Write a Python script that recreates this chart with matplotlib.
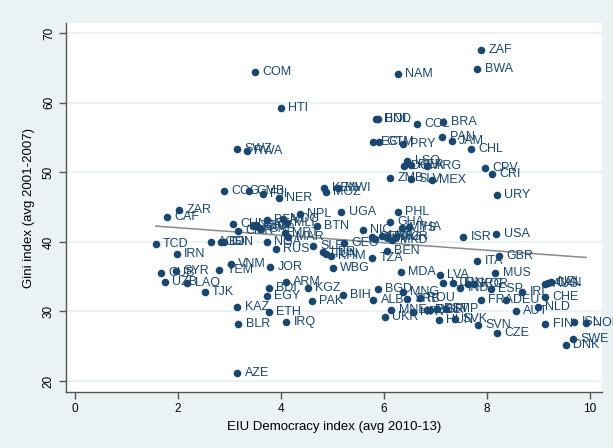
import numpy as np
import matplotlib.pyplot as plt

# country codes, EIU democracy index, Gini index
codes = ['ZAF', 'BWA', 'NAM', 'COM', 'HTI', 'SWZ', 'RWA', 'HND', 'BOL', 'COL',
         'BRA', 'PAN', 'JAM', 'CHL', 'ECU', 'GTM', 'PRY', 'LSO', 'DOM', 'PER',
         'ARG', 'CPV', 'CRI', 'ZMB', 'SLV', 'MEX', 'URY', 'COG', 'GMB', 'FJI',
         'NER', 'KEN', 'MOZ', 'MWI', 'ZAR', 'CAF', 'UGA', 'NPL', 'BFA', 'MDG',
         'MLI', 'BTN', 'PHL', 'GHA', 'MYS', 'THA', 'NIC', 'CHN', 'CMR', 'TGO',
         'GAB', 'CIV', 'GNB', 'MRT', 'MAR', 'NGA', 'RUS', 'TCD', 'IRN', 'AGO',
         'DJI', 'GIN', 'SLE', 'GEO', 'LBR', 'TUN', 'KHM', 'WBG', 'TZA', 'BEN',
         'SEN', 'GUY', 'LKA', 'PNG', 'MKD', 'TUR', 'MDA', 'LVA', 'JOR', 'VNM',
         'YEM', 'CUB', 'SYR', 'UZB', 'LAO', 'TJK', 'ARM', 'BDI', 'KGZ', 'EGY',
         'PAK', 'BIH', 'BGD', 'ALB', 'MNG', 'SRB', 'ROU', 'KAZ', 'ETH', 'BLR',
         'IRQ', 'AZE', 'UKR', 'MNE', 'HRV', 'POL', 'BGR', 'EST', 'TMP', 'HUN',
         'SVK', 'SVN', 'CZE', 'ITA', 'GBR', 'MUS', 'ISR', 'USA', 'LTU', 'JPN',
         'IND', 'GRC', 'KOR', 'ESP', 'IRL', 'AUS', 'CAN', 'NZL', 'CHE', 'FRA',
         'DEU', 'AUT', 'NLD', 'FIN', 'ISL', 'NOR', 'SWE', 'DNK']

democracy = [7.88, 7.81, 6.27, 3.50, 3.99, 3.15, 3.33, 5.85, 5.88, 6.64,
             7.15, 7.13, 7.32, 7.69, 5.79, 5.90, 6.37, 6.45, 6.39, 6.52,
             6.84, 7.96, 8.10, 6.12, 6.52, 6.93, 8.19, 2.89, 3.38, 3.65,
             3.96, 4.84, 4.87, 5.11, 2.02, 1.79, 5.17, 4.37, 3.73, 4.04,
             4.12, 4.70, 6.27, 6.12, 6.35, 6.49, 5.59, 3.07, 3.17, 3.46,
             3.52, 3.55, 3.61, 4.08, 4.14, 3.73, 3.90, 1.57, 1.98, 2.64,
             2.84, 2.89, 4.62, 5.22, 4.82, 4.87, 4.97, 5.01, 5.77, 6.06,
             5.77, 5.83, 5.96, 6.06, 6.16, 6.23, 6.33, 7.09, 3.79, 3.03,
             2.80, 1.67, 1.96, 1.75, 2.18, 2.52, 4.10, 3.77, 4.52, 3.73,
             4.60, 5.20, 5.88, 5.79, 6.37, 6.45, 6.70, 3.15, 3.77, 3.17,
             4.10, 3.15, 6.02, 6.14, 6.56, 6.84, 6.89, 7.03, 7.20, 7.07,
             7.38, 7.83, 8.19, 7.81, 8.23, 8.16, 7.54, 8.18, 7.15, 7.34,
             7.48, 7.63, 7.75, 8.08, 8.68, 9.13, 9.18, 9.24, 9.13, 7.88,
             8.37, 8.56, 8.99, 9.13, 9.69, 9.92, 9.67, 9.53]

gini = [67.56, 64.83, 64.11, 64.40, 59.22, 53.43, 53.09, 57.64, 57.64, 56.93,
        57.21, 55.06, 54.48, 53.33, 54.34, 54.34, 54.05, 51.61, 50.89, 51.03,
        50.89, 50.60, 49.74, 49.17, 49.02, 48.88, 46.72, 47.30, 47.30, 46.87,
        46.29, 47.73, 47.16, 47.73, 44.57, 43.56, 44.28, 43.99, 43.13, 43.28,
        42.70, 42.27, 44.28, 42.84, 41.98, 42.13, 41.70, 42.56, 41.55, 42.27,
        42.41, 42.13, 41.84, 41.26, 40.69, 39.97, 38.97, 39.68, 38.25, 39.97,
        39.97, 39.97, 39.40, 39.83, 38.53, 38.25, 37.96, 36.24, 37.67, 38.68,
        40.69, 40.40, 40.83, 40.69, 40.26, 40.69, 35.66, 35.23, 36.38, 36.81,
        35.95, 35.52, 35.80, 34.22, 34.08, 32.79, 34.22, 33.36, 33.36, 32.21,
        31.49, 32.36, 33.22, 31.64, 32.79, 31.78, 31.93, 30.63, 29.91, 28.19,
        28.48, 21.15, 29.20, 30.20, 29.91, 30.20, 30.20, 30.34, 30.34, 28.76,
        28.91, 28.05, 26.90, 37.24, 37.96, 35.52, 40.73, 41.08, 34.08, 34.08,
        33.36, 33.94, 33.94, 33.22, 32.79, 33.94, 34.08, 34.22, 32.07, 31.64,
        31.64, 30.06, 30.63, 28.19, 28.48, 28.33, 26.03, 25.17]

navy = '#1a476f'
bg = '#eaf2f3'

plt.rcParams['font.family'] = ['Liberation Sans', 'DejaVu Sans']

fig = plt.figure(figsize=(6.13, 4.48), dpi=100, facecolor=bg)
ax = fig.add_axes([66 / 613, 1 - 392 / 448, 536 / 613, 369 / 448])
ax.set_facecolor('white')

x = np.array(democracy)
y = np.array(gini)

# linear fit
b, a = np.polyfit(x, y, 1)
xs = np.array([x.min(), x.max()])
ax.plot(xs, a + b * xs, color='#8a8a8a', lw=1.1, zorder=2)

ax.scatter(x, y, s=30, color=navy, zorder=3, linewidths=0)
for c, xi, yi in zip(codes, x, y):
    ax.annotate(c, (xi, yi), xytext=(5.2, 0), textcoords='offset points',
                va='center', ha='left', fontsize=9, color=navy, zorder=4)

ax.set_xlim(-0.175, 10.23)
ax.set_ylim(18.42, 71.48)
ax.set_xticks([0, 2, 4, 6, 8, 10])
ax.set_yticks([20, 30, 40, 50, 60, 70])
ax.set_yticklabels(['20', '30', '40', '50', '60', '70'], rotation=90, va='center')
ax.tick_params(direction='out', length=5, width=1, color='#555555',
               labelsize=8.5, labelcolor='black', pad=3)

ax.grid(axis='y', color=bg, lw=1.6, zorder=0)
ax.set_axisbelow(True)
for s in ['top', 'right']:
    ax.spines[s].set_visible(False)
for s in ['left', 'bottom']:
    ax.spines[s].set_color('#555555')
    ax.spines[s].set_linewidth(1)

ax.set_xlabel('EIU Democracy index (avg 2010-13)', fontsize=9.5, labelpad=4)
ax.set_ylabel('Gini index (avg 2001-2007)', fontsize=9.5, labelpad=6)

fig.savefig('out.png', dpi=100, facecolor=bg)
